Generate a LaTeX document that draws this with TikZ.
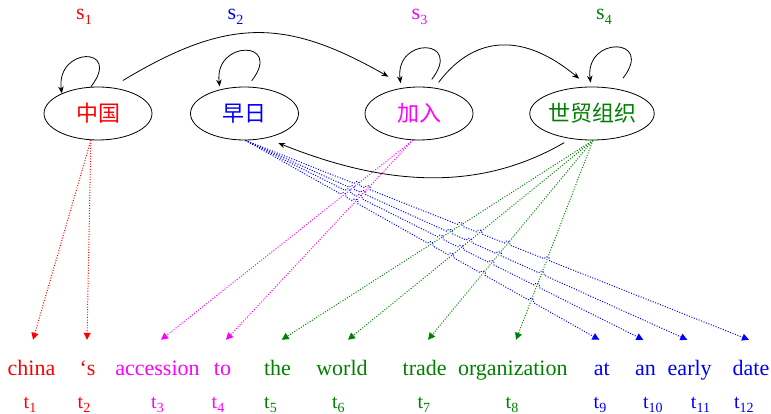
\documentclass[tikz,border=0pt]{standalone}
\usepackage{fontspec}
\setmainfont{Liberation Serif}
\newfontfamily\cjk{Noto Sans CJK SC}
\usetikzlibrary{arrows.meta,shapes.geometric,calc,intersections}

\definecolor{tred}{RGB}{255,0,0}
\definecolor{tblue}{RGB}{0,0,255}
\definecolor{tmag}{RGB}{255,0,255}
\definecolor{tgreen}{RGB}{0,128,0}

% lowered index in text font
\newcommand\idxsub[1]{\raisebox{-0.2em}{\fontsize{14}{14}\selectfont #1}}

\begin{document}
\begin{tikzpicture}[x=1pt,y=-1pt,
  state/.style={draw, ellipse, minimum width=108pt, minimum height=53pt,
    inner sep=0pt, line width=0.8pt, font=\cjk\fontsize{22}{26}\selectfont},
  slabel/.style={anchor=base, inner sep=0pt, font=\fontsize{22}{26}\selectfont},
  word/.style={anchor=base, inner sep=0pt, text height=35pt, text depth=0pt,
    font=\fontsize{22}{26}\selectfont},
  idx/.style={anchor=base, inner sep=0pt, font=\fontsize{20}{24}\selectfont},
  trans/.style={-{Stealth[length=7pt,width=5.5pt]}, line width=0.8pt},
  link/.style={line width=1pt, dash pattern=on 1pt off 1.6pt,
    -{Triangle[length=7pt,width=7pt]}},
  hop/.style={bend left=90, looseness=1.7},
]
\useasboundingbox (0,0) rectangle (771,414);

% state labels
\node[slabel, tred]   (s1) at (84,20)    {s\idxsub{1}};
\node[slabel, tblue]  (s2) at (235.5,20) {s\idxsub{2}};
\node[slabel, tmag]   (s3) at (419.5,20) {s\idxsub{3}};
\node[slabel, tgreen] (s4) at (604,20)   {s\idxsub{4}};

% states
\node[state, text=tred]   (a) at (98,113.5)  {中国};
\node[state, text=tblue]  (b) at (244.5,113.5) {早日};
\node[state, text=tmag]   (c) at (419,113.5) {加入};
\node[state, text=tgreen] (d) at (592,113.5) {世贸组织};

% self loops
\draw[trans] (a.105) .. controls +(32,-41) and +(-6,-47) .. (a.151);
\draw[trans] ([yshift=6pt]b.75) .. controls +(32,-41) and +(-6,-47) .. ([yshift=3pt]b.136);
\draw[trans] ([yshift=8pt]c.64) .. controls +(32,-41) and +(-6,-47) .. ([yshift=5pt]c.126);
\draw[trans] ([yshift=12pt]d.37) .. controls +(32,-41) and +(-6,-47) .. ([yshift=4pt]d.93);

% transitions between states
\draw[trans] ([yshift=9pt]a.44) .. controls +(104.7,-63) and +(-103.5,-59) .. ([yshift=14.6pt]c.144);
\draw[trans] ([yshift=6pt]c.52) .. controls +(36.7,-48.7) and +(-54.3,-45.3) .. ([yshift=8.5pt]d.116);
\draw[trans] ([yshift=-5pt]d.221) .. controls +(-80.7,46.9) and +(114,45.9) .. ([yshift=-8.4pt]b.328);

% target words
\node[word, tred]   (w1)  at (31.5,375)  {china};
\node[word, tred]   (w2)  at (87.5,375)  {‘s};
\node[word, tmag]   (w3)  at (157.5,375) {accession};
\node[word, tmag]   (w4)  at (222.5,375) {to};
\node[word, tgreen] (w5)  at (277.5,375) {the};
\node[word, tgreen] (w6)  at (342,375)   {world};
\node[word, tgreen] (w7)  at (424.7,375) {trade};
\node[word, tgreen] (w8)  at (512.8,375) {organization};
\node[word, tblue]  (w9)  at (601.7,375) {at};
\node[word, tblue]  (w10) at (645.5,375) {an};
\node[word, tblue]  (w11) at (689.7,375) {early};
\node[word, tblue]  (w12) at (751,375)   {date};

% word indices
\node[idx, tred]   (t1)  at (30,408)    {t\idxsub{1}};
\node[idx, tred]   (t2)  at (84,408)    {t\idxsub{2}};
\node[idx, tmag]   (t3)  at (157.5,408) {t\idxsub{3}};
\node[idx, tmag]   (t4)  at (218,408)   {t\idxsub{4}};
\node[idx, tgreen] (t5)  at (270.5,408) {t\idxsub{5}};
\node[idx, tgreen] (t6)  at (338.3,408) {t\idxsub{6}};
\node[idx, tgreen] (t7)  at (423.8,408) {t\idxsub{7}};
\node[idx, tgreen] (t8)  at (512,408)   {t\idxsub{8}};
\node[idx, tblue]  (t9)  at (600,408)   {t\idxsub{9}};
\node[idx, tblue]  (t10) at (652.8,408) {t\idxsub{10}};
\node[idx, tblue]  (t11) at (700.5,408) {t\idxsub{11}};
\node[idx, tblue]  (t12) at (743.8,408) {t\idxsub{12}};

% arrow ends above the words
\coordinate (e1)  at ([xshift=1.5pt]w1.north);
\coordinate (e2)  at ([xshift=-0.5pt]w2.north);
\coordinate (e3)  at ([xshift=3.5pt]w3.north);
\coordinate (e4)  at ([xshift=3.5pt]w4.north);
\coordinate (e5)  at ([xshift=4.2pt]w5.north);
\coordinate (e6)  at ([xshift=6pt]w6.north);
\coordinate (e7)  at ([xshift=3.3pt]w7.north);
\coordinate (e8)  at ([xshift=3.2pt]w8.north);
\coordinate (e9)  at ([xshift=-2.4pt]w9.north);
\coordinate (e10) at ([xshift=-2.2pt]w10.north);
\coordinate (e11) at ([xshift=-2.4pt]w11.north);
\coordinate (e12) at ([xshift=-2pt]w12.north);

% alignment links
\draw[link, tred] (a.255) -- (e1);
\draw[link, tred] (a.255) -- (e2);
\draw[link, tmag, name path=x3] (c.257) -- (e3);
\draw[link, tmag, name path=x4] (c.257) -- (e4);
\draw[link, tgreen, name path=x5] (d.272) -- (e5);
\draw[link, tgreen, name path=x6] (d.272) -- (e6);
\draw[link, tgreen, name path=x7] (d.272) -- (e7);
\draw[link, tgreen, name path=x8] (d.272) -- (e8);

% blue links hop over the links they cross
\def\hr{3pt}
\foreach \j in {9,10,11,12} {
  \path[name path=bl] (b.272) -- (e\j);
  \foreach \k in {3,...,8} {
    \path[name intersections={of=bl and x\k, by={h\k}}];
  }
  \draw[link, tblue] (b.272)
    -- ($(h3)!\hr!(b.272)$) to[hop] ($(h3)!\hr!(e\j)$)
    -- ($(h4)!\hr!(b.272)$) to[hop] ($(h4)!\hr!(e\j)$)
    -- ($(h5)!\hr!(b.272)$) to[hop] ($(h5)!\hr!(e\j)$)
    -- ($(h6)!\hr!(b.272)$) to[hop] ($(h6)!\hr!(e\j)$)
    -- ($(h7)!\hr!(b.272)$) to[hop] ($(h7)!\hr!(e\j)$)
    -- ($(h8)!\hr!(b.272)$) to[hop] ($(h8)!\hr!(e\j)$)
    -- (e\j);
}
\end{tikzpicture}
\end{document}
